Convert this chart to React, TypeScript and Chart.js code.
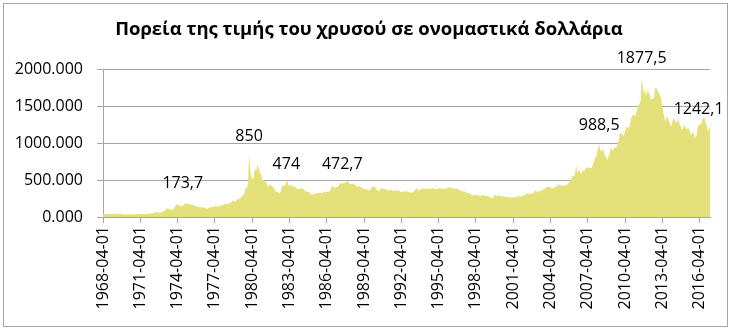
import React, { useEffect, useRef } from 'react';
import { Chart, registerables } from 'chart.js';

Chart.register(...registerables);

const TITLE = 'Πορεία της τιμής του χρυσού σε ονομαστικά δολλάρια';
const START_YEAR = 1968;
const START_MONTH = 4;

// Monthly gold price (USD / oz)
const prices1968to1979 = [
  38, 42, 41, 39, 39, 40, 39, 40, 41,
  42, 43, 43, 43, 43, 41, 42, 41, 41, 40, 36, 35,
  35, 35, 35, 36, 36, 35, 35, 35, 36, 37, 37, 37,
  38, 39, 39, 39, 40, 40, 41, 42, 42, 42, 43, 43,
  46, 48, 48, 49, 55, 62, 66, 67, 65, 64, 63, 64,
  65, 74, 84, 91, 102, 120, 120, 106, 103, 100, 94, 106,
  129, 150, 168, 172, 163, 155, 143, 155, 151, 158, 181, 186,
  176, 180, 178, 170, 167, 164, 166, 160, 144, 143, 142, 139,
  131, 132, 133, 128, 127, 126, 118, 110, 115, 117, 131, 134,
  133, 136, 148, 149, 147, 141, 143, 145, 150, 158, 162, 160,
  173, 178, 184, 175, 177, 183, 188, 207, 213, 228, 206, 208,
  227, 246, 243, 239, 258, 280, 295, 301, 355, 392, 392, 456,
];
const prices1980to1989 = [
  850, 665, 554, 517, 514, 600, 645, 627, 710, 661, 623, 594,
  557, 500, 500, 495, 480, 460, 410, 410, 445, 435, 415, 410,
  384, 374, 330, 350, 334, 315, 339, 364, 435, 422, 415, 447,
  481, 505, 420, 430, 438, 413, 422, 416, 412, 394, 382, 388,
  370, 386, 394, 381, 377, 378, 348, 348, 341, 340, 341, 320,
  303, 299, 304, 325, 316, 317, 317, 330, 323, 326, 325, 322,
  345, 339, 346, 340, 342, 343, 348, 376, 418, 423, 398, 391,
  408, 401, 409, 438, 460, 450, 450, 461, 460, 465, 476, 490,
  477, 442, 444, 452, 451, 452, 437, 432, 413, 406, 420, 419,
  404, 388, 390, 384, 371, 367, 375, 365, 362, 367, 394, 409,
];
const prices1990to1999 = [
  410, 417, 393, 374, 369, 352, 362, 395, 389, 381, 381, 378,
  383, 364, 363, 358, 357, 367, 368, 356, 349, 359, 360, 361,
  354, 354, 345, 338, 337, 341, 353, 343, 345, 344, 335, 334,
  329, 330, 330, 342, 367, 372, 392, 378, 355, 365, 374, 383,
  387, 382, 384, 377, 381, 385, 385, 380, 391, 389, 384, 379,
  378, 376, 382, 391, 385, 387, 386, 383, 383, 383, 386, 387,
  400, 405, 396, 393, 392, 385, 383, 387, 383, 381, 378, 369,
  355, 347, 352, 344, 344, 341, 324, 324, 323, 325, 306, 289,
  289, 297, 296, 308, 299, 292, 293, 284, 289, 296, 294, 291,
  287, 287, 286, 282, 277, 262, 256, 257, 265, 311, 293, 284,
];
const prices2000to2009 = [
  284, 300, 286, 280, 275, 286, 282, 274, 274, 270, 266, 272,
  266, 262, 263, 261, 272, 270, 268, 273, 283, 283, 276, 276,
  282, 296, 294, 303, 315, 322, 314, 310, 319, 317, 319, 333,
  357, 359, 340, 328, 355, 356, 351, 360, 379, 379, 390, 407,
  414, 405, 406, 404, 384, 392, 398, 400, 405, 420, 439, 442,
  424, 423, 434, 428, 421, 430, 424, 437, 456, 470, 476, 510,
  549, 555, 557, 610, 700, 596, 633, 632, 598, 585, 627, 629,
  631, 665, 655, 679, 667, 655, 665, 665, 712, 754, 806, 803,
  889, 922, 988.5, 909, 888, 889, 939, 839, 829, 806, 760, 816,
  858, 943, 925, 890, 928, 946, 934, 949, 996, 1043, 1127, 1130,
];
const prices2010to2017 = [
  1118, 1095, 1113, 1149, 1205, 1232, 1193, 1215, 1271, 1343, 1370, 1391,
  1360, 1374, 1424, 1474, 1512, 1529, 1572, 1877.5, 1780, 1665, 1738, 1652,
  1656, 1742, 1673, 1650, 1585, 1596, 1594, 1626, 1744, 1747, 1722, 1684,
  1671, 1627, 1593, 1485, 1414, 1343, 1286, 1347, 1349, 1316, 1275, 1225,
  1244, 1300, 1336, 1299, 1287, 1279, 1311, 1296, 1239, 1222, 1176, 1200,
  1251, 1227, 1179, 1198, 1199, 1182, 1131, 1117, 1125, 1159, 1086, 1068,
  1097, 1199, 1246, 1242.1, 1260, 1276, 1337, 1340, 1326, 1266, 1236, 1151,
  1192, 1234,
];

const goldPrices = [
  ...prices1968to1979,
  ...prices1980to1989,
  ...prices1990to1999,
  ...prices2000to2009,
  ...prices2010to2017,
];

const dateLabels = goldPrices.map((_, i) => {
  const m = START_MONTH - 1 + i;
  const y = START_YEAR + Math.floor(m / 12);
  const mo = (m % 12) + 1;
  return `${y}-${String(mo).padStart(2, '0')}-01`;
});

const tickLabels = [
  '1968-04-01', '1971-04-01', '1974-04-01', '1977-04-01', '1980-04-01',
  '1983-04-01', '1986-04-01', '1989-04-01', '1992-04-01', '1995-04-01',
  '1998-04-01', '2001-04-01', '2004-04-01', '2007-04-01', '2010-04-01',
  '2013-04-01', '2016-04-01',
];

const annotationTexts = ['173,7', '850', '474', '472,7', '988,5', '1877,5', '1242,1'];
const annotationDates = ['1974-09-01', '1980-01-01', '1983-01-01', '1987-07-01', '2008-03-01', '2011-08-01', '2016-03-01'];
const annotationLevels = [457, 1090, 714, 714, 1243, 2137, 1459];

const FONT = "'Open Sans', 'Noto Sans', sans-serif";

const framePlugin = {
  id: 'frame',
  beforeDraw(chart: any) {
    const { ctx, width, height } = chart;
    ctx.save();
    ctx.fillStyle = '#ffffff';
    ctx.fillRect(0, 0, width, height);
    ctx.strokeStyle = '#a6a6a6';
    ctx.lineWidth = 1;
    ctx.strokeRect(3.5, 3.5, 724, 323);
    ctx.fillStyle = '#000000';
    ctx.font = `bold 18.5px ${FONT}`;
    ctx.textAlign = 'center';
    ctx.textBaseline = 'middle';
    ctx.fillText(TITLE, 369, 30);
    ctx.restore();
  },
  afterDatasetsDraw(chart: any) {
    const { ctx } = chart;
    const xs = chart.scales.x;
    const ys = chart.scales.y;
    ctx.save();
    ctx.fillStyle = '#000000';
    ctx.font = `16px ${FONT}`;
    ctx.textAlign = 'center';
    ctx.textBaseline = 'middle';
    annotationTexts.forEach((t, i) => {
      const idx = dateLabels.indexOf(annotationDates[i]);
      const x = xs.getPixelForValue(idx);
      const y = ys.getPixelForValue(annotationLevels[i]);
      ctx.fillText(t, x, y);
    });
    ctx.restore();
  },
};

export default function App() {
  const ref = useRef<HTMLCanvasElement | null>(null);
  useEffect(() => {
    if (!ref.current) return;
    const chart = new Chart(ref.current, {
      type: 'line',
      data: {
        labels: dateLabels,
        datasets: [
          {
            data: goldPrices,
            fill: 'origin',
            backgroundColor: 'rgb(229, 225, 122)',
            borderColor: 'rgb(229, 225, 122)',
            borderWidth: 0,
            pointRadius: 0,
            tension: 0,
          },
        ],
      },
      options: {
        responsive: false,
        animation: false,
        devicePixelRatio: 1,
        layout: { padding: { left: 0, right: 25, top: 69, bottom: 0 } },
        plugins: {
          legend: { display: false },
          tooltip: { enabled: false },
          title: { display: false },
        },
        scales: {
          x: {
            type: 'category',
            offset: false,
            afterFit: (s: any) => { s.height = 117; },
            grid: { drawOnChartArea: false, color: '#a6a6a6', tickLength: 6 },
            border: { display: true, color: '#a6a6a6' },
            ticks: {
              autoSkip: false,
              maxRotation: 90,
              minRotation: 90,
              padding: 3,
              color: '#000000',
              font: { family: FONT, size: 16 },
              callback: (_v: any, i: number) => (tickLabels.includes(dateLabels[i]) ? dateLabels[i] : null),
            },
          },
          y: {
            min: 0,
            max: 2000,
            afterFit: (s: any) => { s.width = 103; },
            grid: { color: '#a6a6a6', tickLength: 6 },
            border: { display: true, color: '#a6a6a6' },
            ticks: {
              stepSize: 500,
              padding: 14,
              color: '#000000',
              font: { family: FONT, size: 16 },
              callback: (v: any) => Number(v).toFixed(3),
            },
          },
        },
      },
      plugins: [framePlugin],
    });
    return () => chart.destroy();
  }, []);
  return (
    <div style={{ position: 'absolute', left: 0, top: 0, width: 735, height: 334 }}>
      <canvas ref={ref} width={735} height={334} style={{ width: 735, height: 334 }} />
    </div>
  );
}
